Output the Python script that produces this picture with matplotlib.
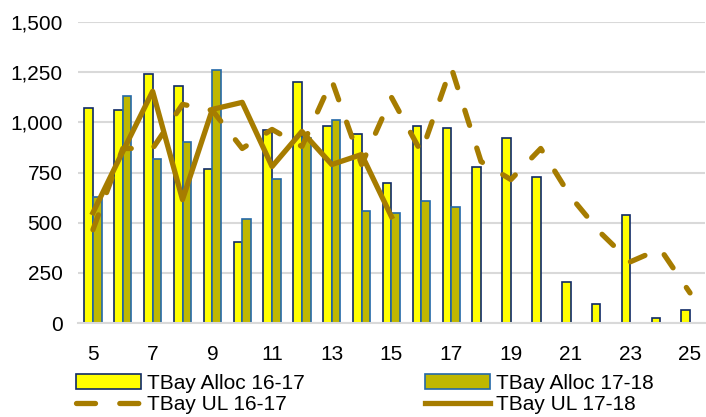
import numpy as np
import matplotlib
matplotlib.use("Agg")
from matplotlib import pyplot as plt
from matplotlib.lines import Line2D

plt.rcParams['font.family'] = ['Liberation Sans', 'DejaVu Sans']

weeks = np.arange(5, 26)
alloc_16_17 = [1070, 1060, 1240, 1180, 770, 405, 960, 1200, 980, 940, 700,
               980, 970, 780, 920, 730, 205, 95, 540, 25, 65]
alloc_17_18 = [630, 1130, 820, 900, 1260, 520, 720, 920, 1010, 560, 550,
               610, 580]
ul_16_17 = [465, 870, 870, 1090, 1060, 870, 965, 880, 1210, 790, 1125,
            850, 1275, 805, 715, 870, 630, 450, 305, 370, 150]
ul_17_18 = [550, 855, 1155, 615, 1065, 1100, 780, 955, 790, 840, 530]

line_col = '#A67C00'
w = 0.29

fig = plt.figure(figsize=(7.06, 4.17), dpi=100)
ax = fig.add_axes([0.1105, 0.2254, 0.888, 0.7216])

b1 = ax.bar(weeks - w / 2, alloc_16_17, width=w, color='#FFFF00',
            edgecolor='#0F2A66', linewidth=1.2, label='TBay Alloc 16-17', zorder=2)
b2 = ax.bar(weeks[:len(alloc_17_18)] + w / 2, alloc_17_18, width=w, color='#BFB700',
            edgecolor='#2468A8', linewidth=1.2, label='TBay Alloc 17-18', zorder=2)
ax.plot(weeks, ul_16_17, color=line_col, linewidth=3.8, dashes=(3, 4.5),
        dash_capstyle='round', zorder=3)
l2, = ax.plot(weeks[:len(ul_17_18)], ul_17_18, color=line_col, linewidth=3.8,
              label='TBay UL 17-18', zorder=3)
# legend proxy so the key shows two dashes like the original
l1 = Line2D([], [], color=line_col, linewidth=3.8, dashes=(3.6, 4.6),
            dash_capstyle='round', label='TBay UL 16-17')

ax.set_xlim(4.5, 25.5)
ax.set_ylim(0, 1500)
ax.set_xticks(np.arange(5, 26, 2))
ax.set_yticks(np.arange(0, 1501, 250))
ax.set_yticklabels([f'{v:,}' for v in range(0, 1501, 250)])
ax.tick_params(length=0, labelsize=15)
ax.tick_params(axis='x', pad=15.5)
ax.tick_params(axis='y', pad=11)
ax.grid(axis='y', color='#D9D9D9', linewidth=1.5, zorder=0)
ax.set_axisbelow(True)
for s in ['top', 'right', 'left']:
    ax.spines[s].set_visible(False)
ax.spines['bottom'].set_color('#D9D9D9')
ax.spines['bottom'].set_linewidth(1.5)

# column-wise fill: col 1 = Alloc 16-17, UL 16-17 ; col 2 = Alloc 17-18, UL 17-18
handles = [b1, l1, b2, l2]
labels = [h.get_label() for h in handles]
fig.legend(handles, labels, ncol=2, loc='lower left',
           bbox_to_anchor=(0.081, -0.038), frameon=False, fontsize=15,
           handlelength=3.1, handletextpad=0.3, columnspacing=5.8,
           labelspacing=0.12)

fig.savefig('out.png', dpi=100)
